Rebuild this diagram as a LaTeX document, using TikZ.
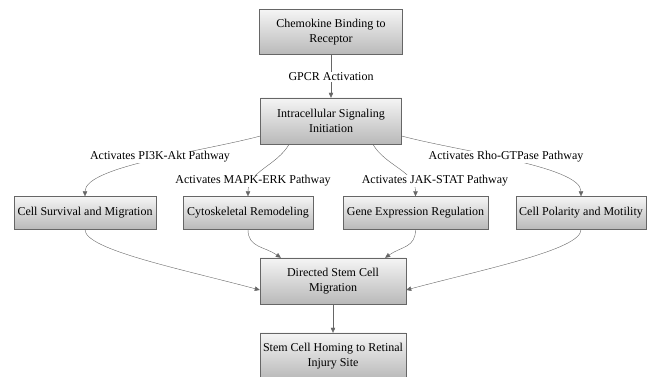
\documentclass[tikz,border=0pt]{standalone}
\usepackage{fontspec}
\setmainfont{Liberation Serif}
\newfontfamily\boxfont{Liberation Serif}
\usetikzlibrary{arrows.meta}

\begin{document}
\begin{tikzpicture}[x=1pt, y=1pt,
		box/.style={draw=black!60, top color=gray!8, bottom color=gray!55, align=center,
			inner sep=2pt, font=\boxfont\fontsize{12}{15.5}\selectfont},
		lbl/.style={fill=white, inner sep=1pt, font=\boxfont\fontsize{12}{14}\selectfont},
		flow/.style={draw=black!60, -{Triangle[length=5pt, width=4.5pt]}}]
		\useasboundingbox (0,0) rectangle (651,377);
		% boxes
		\node[box, minimum width=143pt, minimum height=45pt] (bind) at (331,345) {Chemokine Binding to\\Receptor};
		\node[box, minimum width=141pt, minimum height=46pt] (init) at (331,256) {Intracellular Signaling\\Initiation};
		\node[box, minimum width=142pt, minimum height=33pt] (surv) at (85,164) {Cell Survival and Migration};
		\node[box, minimum width=130pt, minimum height=33pt] (cyto) at (248,164) {Cytoskeletal Remodeling};
		\node[box, minimum width=145pt, minimum height=33pt] (gene) at (415.5,164) {Gene Expression Regulation};
		\node[box, minimum width=130pt, minimum height=33pt] (pol) at (581,164) {Cell Polarity and Motility};
		\node[box, minimum width=146pt, minimum height=46pt] (dir) at (333,96) {Directed Stem Cell\\Migration};
		\node[box, minimum width=146pt, minimum height=46pt] (home) at (333,21) {Stem Cell Homing to Retinal\\Injury Site};
		% connectors
		\draw[flow] (bind) -- (init);
		\draw[flow] (init.192) .. controls +(195:60) and +(90:30) .. (surv.north);
		\draw[flow] (init.209) .. controls +(240:25) and +(90:25) .. (cyto.north);
		\draw[flow] (init.331) .. controls +(-60:25) and +(90:25) .. (gene.north);
		\draw[flow] (init.348) .. controls +(-15:60) and +(90:30) .. (pol.north);
		\draw[flow] (surv.south) .. controls +(-90:20) and +(165:80) .. (dir.187);
		\draw[flow] (cyto.south) .. controls +(-90:18) and +(145:20) .. (dir.156);
		\draw[flow] (gene.south) .. controls +(-90:18) and +(35:20) .. (dir.24);
		\draw[flow] (pol.south) .. controls +(-90:20) and +(15:80) .. (dir.353);
		\draw[flow] (dir) -- (home);
		% labels
		\node[lbl] (gpcr) at (331,300) {GPCR Activation};
		\node[lbl] (pi3k) at (160,220) {Activates PI3K-Akt Pathway};
		\node[lbl] (mapk) at (253,196) {Activates MAPK-ERK Pathway};
		\node[lbl] (jak) at (435,196) {Activates JAK-STAT Pathway};
		\node[lbl] (rho) at (506,220) {Activates Rho-GTPase Pathway};
	\end{tikzpicture}
\end{document}
